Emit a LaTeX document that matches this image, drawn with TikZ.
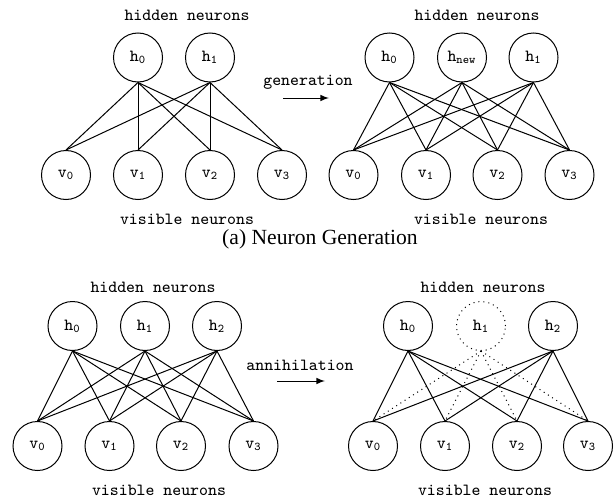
\documentclass[tikz,border=0pt]{standalone}
\usepackage{fontspec}
\setmainfont{Liberation Serif}
\tikzset{
  neuron/.style={draw,circle,minimum size=24.5pt,inner sep=0pt,font=\fontsize{8.5}{9}\ttfamily},
  lbl/.style={font=\fontsize{8.5}{9}\ttfamily}
}
\begin{document}
\begin{tikzpicture}[x=0.5pt,y=-0.5pt,line width=0.5pt]
  \useasboundingbox (0,0) rectangle (616,498);
  %generation, sinistra
  \node[lbl] (ahid) at (187,15) {hidden neurons};
  \node[neuron] (ah0) at (138,57.5) {h\textsubscript{0}};
  \node[neuron] (ah1) at (210,57.5) {h\textsubscript{1}};
  \foreach \i/\px in {0/66,1/138,2/210,3/282}
    \node[neuron] (av\i) at (\px,175) {v\textsubscript{\i}};
  \node[lbl] (avis) at (187,219) {visible neurons};
  \foreach \h in {0,1} \foreach \v in {0,...,3}
    \draw (ah\h.south) -- (av\v.north);
  %freccia
  \node[lbl] (gen) at (308,82) {generation};
  \coordinate (g1) at (283,98);
  \coordinate (g2) at (329,98);
  \draw[-latex] (g1) -- (g2);
  %generation, destra
  \node[lbl] (bhid) at (477,15) {hidden neurons};
  \node[neuron] (bh0) at (389.5,57.5) {h\textsubscript{0}};
  \node[neuron] (bh1) at (462,57.5) {h\textsubscript{new}};
  \node[neuron] (bh2) at (533.5,57.5) {h\textsubscript{1}};
  \foreach \i/\px in {0/353.5,1/426,2/497.5,3/569.5}
    \node[neuron] (bv\i) at (\px,175) {v\textsubscript{\i}};
  \node[lbl] (bvis) at (481,219) {visible neurons};
  \foreach \h in {0,1,2} \foreach \v in {0,...,3}
    \draw (bh\h.south) -- (bv\v.north);
  %didascalia
  \node[font=\fontsize{10.8}{12}\selectfont] (capa) at (320,239) {(a) Neuron Generation};
  %annihilation, sinistra
  \node[lbl] (chid) at (153,287) {hidden neurons};
  \foreach \i/\px in {0/72.5,1/145,2/217}
    \node[neuron] (ch\i) at (\px,326) {h\textsubscript{\i}};
  \foreach \i/\px in {0/37.5,1/109.5,2/181,3/253.5}
    \node[neuron] (cv\i) at (\px,446) {v\textsubscript{\i}};
  \node[lbl] (cvis) at (159,490) {visible neurons};
  \foreach \h in {0,1,2} \foreach \v in {0,...,3}
    \draw (ch\h.south) -- (cv\v.north);
  %freccia
  \node[lbl] (ann) at (300,365) {annihilation};
  \coordinate (a1) at (277,381);
  \coordinate (a2) at (325,381);
  \draw[-latex] (a1) -- (a2);
  %annihilation, destra
  \node[lbl] (dhid) at (483,287) {hidden neurons};
  \node[neuron] (dh0) at (408,326) {h\textsubscript{0}};
  \node[neuron,dotted] (dh1) at (481,326) {h\textsubscript{1}};
  \node[neuron] (dh2) at (553,326) {h\textsubscript{2}};
  \foreach \i/\px in {0/373,1/445,2/517,3/588}
    \node[neuron] (dv\i) at (\px,446) {v\textsubscript{\i}};
  \node[lbl] (dvis) at (485,490) {visible neurons};
  \foreach \h in {0,2} \foreach \v in {0,...,3}
    \draw (dh\h.south) -- (dv\v.north);
  \foreach \v in {0,...,3}
    \draw[dotted] (dh1.south) -- (dv\v.north);
\end{tikzpicture}
\end{document}
